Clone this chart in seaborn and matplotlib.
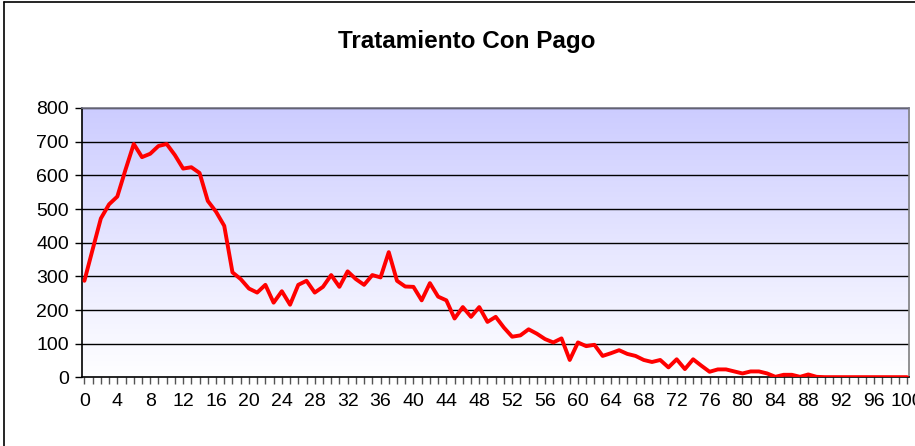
import numpy as np
import pandas as pd
import matplotlib
matplotlib.use("Agg")
import matplotlib.pyplot as plt
import seaborn as sns
from matplotlib.lines import Line2D

# values, one per day 0..100
dias = list(range(0, 101))
pagos = [
    287, 380, 472, 514, 537, 617, 693, 654, 664, 687,
    693, 660, 620, 624, 607, 524, 492, 450, 312, 292,
    264, 252, 275, 222, 256, 216, 275, 287, 252, 269,
    304, 269, 315, 292, 275, 304, 297, 372, 287, 270,
    269, 229, 280, 240, 229, 175, 209, 180, 209, 165,
    180, 148, 121, 125, 143, 130, 114, 104, 116, 52,
    104, 93, 97, 64, 72, 81, 70, 64, 52, 46,
    52, 30, 54, 25, 54, 35, 17, 24, 24, 18,
    12, 18, 18, 12, 2, 8, 8, 2, 9, 2,
    1, 1, 1, 1, 1, 1, 1, 1, 1, 1,
    1,
]
y_ticks = list(range(0, 801, 100))
x_ticks = list(range(0, 101, 4))

df = pd.DataFrame({"dia": dias, "pagos": pagos})

sns.set_style("white", {"text.color": "black", "xtick.color": "black",
                        "ytick.color": "black", "axes.labelcolor": "black"})
plt.rcParams["font.family"] = ["Liberation Sans", "DejaVu Sans"]

fig = plt.figure(figsize=(9.15, 4.46), dpi=100)
ax = fig.add_axes([0.0891, 0.1536, 0.9044, 0.6044])

# gradient background of the plot area
grad = np.linspace(0, 1, 256).reshape(-1, 1)
top = np.array([204, 204, 255]) / 255
bottom = np.array([255, 255, 255]) / 255
img = top * (1 - grad)[..., None] + bottom * grad[..., None]
ax.imshow(img, extent=[0, 1, 0, 1], transform=ax.transAxes,
          aspect="auto", zorder=0)

sns.lineplot(data=df, x="dia", y="pagos", color="#ff0000", linewidth=2.8,
             ax=ax, zorder=3)

ax.set_xlim(-0.35, 100.25)
ax.set_ylim(0, 800)
ax.set_yticks(y_ticks)
ax.set_xticks(x_ticks)
ax.set_xticks(dias, minor=True)
ax.set_xticklabels([str(v) for v in x_ticks])
ax.tick_params(axis="x", which="both", direction="out", length=5,
               color="#555555", width=1, labelsize=14, pad=6,
               bottom=True, labelcolor="black")
ax.tick_params(axis="y", direction="out", length=5, color="black",
               width=1, labelsize=14, pad=4, left=True, labelcolor="black")
for v in y_ticks[1:]:
    ax.axhline(v, color="black", linewidth=1.0, zorder=1)

ax.set_xlabel("")
ax.set_ylabel("")
ax.spines["left"].set_color("black")
ax.spines["bottom"].set_color("black")
ax.spines["top"].set_color("#777788")
ax.spines["right"].set_color("#808080")
for s in ax.spines.values():
    s.set_linewidth(1.2)

fig.text(0.51, 0.907, "Tratamiento Con Pago", ha="center", va="center",
         fontsize=17.5, fontweight="bold", color="black")

# chart area border (only top and left visible in the reference)
fig.add_artist(Line2D([4 / 915, 4 / 915], [0, 1 - 2 / 446],
                      transform=fig.transFigure, color="black", linewidth=1.2))
fig.add_artist(Line2D([4 / 915, 1], [1 - 2 / 446, 1 - 2 / 446],
                      transform=fig.transFigure, color="black", linewidth=1.2))

fig.savefig("out.png", dpi=100)
